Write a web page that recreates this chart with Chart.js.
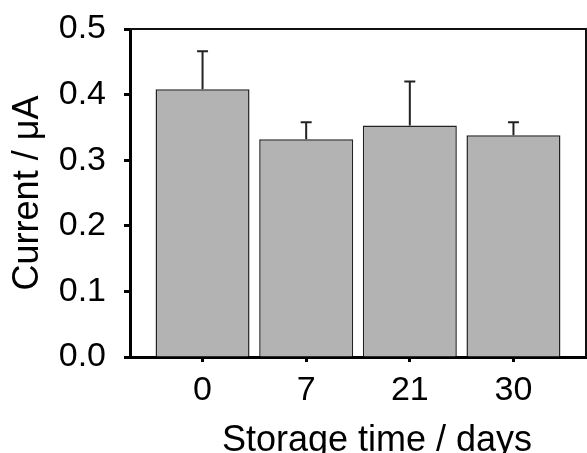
<!DOCTYPE html>
<html>
<head>
<meta charset="utf-8">
<script src="https://cdn.jsdelivr.net/npm/chart.js@4"></script>
<style>
html, body { margin: 0; padding: 0; background: #fff; }
</style>
</head>
<body>
<canvas id="myChart" width="587" height="453"></canvas>
<script>
// values
const days = ['0', '7', '21', '30'];
const current = [0.408, 0.332, 0.353, 0.338];
const currentErr = [0.058, 0.026, 0.067, 0.020];
const yTicks = [0, 0.1, 0.2, 0.3, 0.4, 0.5];

const FONT = 'Liberation Sans, Arial, sans-serif';

// upward error bars with a small cap
const errorBars = {
    id: 'errorBars',
    afterDatasetsDraw(chart) {
        const ctx = chart.ctx;
        const y = chart.scales.y;
        const meta = chart.getDatasetMeta(0);
        ctx.save();
        ctx.strokeStyle = '#222';
        ctx.lineWidth = 2;
        meta.data.forEach((bar, i) => {
            const top = y.getPixelForValue(current[i] + currentErr[i]);
            ctx.beginPath();
            ctx.moveTo(bar.x, bar.y);
            ctx.lineTo(bar.x, top);
            ctx.moveTo(bar.x - 5.5, top);
            ctx.lineTo(bar.x + 5.5, top);
            ctx.stroke();
        });
        ctx.restore();
    }
};

// thin top/right frame + x title (it runs off the bottom in the original)
const frame = {
    id: 'frame',
    afterDraw(chart) {
        const ctx = chart.ctx;
        const a = chart.chartArea;
        ctx.save();
        ctx.strokeStyle = '#111';
        ctx.lineWidth = 2;
        ctx.beginPath();
        ctx.moveTo(a.left, a.top);
        ctx.lineTo(a.right, a.top);
        ctx.lineTo(a.right, a.bottom);
        ctx.stroke();
        ctx.fillStyle = '#000';
        ctx.font = '36px ' + FONT;
        ctx.textAlign = 'center';
        ctx.textBaseline = 'alphabetic';
        ctx.fillText('Storage time / days', (a.left + a.right) / 2 + 19, 451);
        ctx.restore();
    }
};

const renderChart = () => {
    const ctx = document.getElementById('myChart').getContext('2d');
    new Chart(ctx, {
        type: 'bar',
        data: {
            datasets: [{
                data: current.map((v, i) => ({ x: i, y: v })),
                backgroundColor: '#b3b3b3',
                borderColor: '#222',
                borderWidth: 1.5,
                categoryPercentage: 1,
                barPercentage: 0.907
            }]
        },
        options: {
            responsive: false,
            animation: false,
            layout: { padding: { top: 29, right: 1, bottom: 0, left: 0 } },
            plugins: {
                legend: { display: false },
                tooltip: { enabled: false }
            },
            scales: {
                x: {
                    type: 'linear',
                    min: -0.7,
                    max: 3.7,
                    offset: false,
                    afterBuildTicks: (scale) => {
                        scale.ticks = days.map((d, i) => ({ value: i }));
                    },
                    afterFit: (scale) => {
                        scale.height = 96;
                        scale.paddingLeft = 0;
                        scale.paddingRight = 0;
                    },
                    ticks: {
                        callback: (v) => days[v],
                        color: '#000',
                        font: { family: FONT, size: 34 },
                        padding: 8,
                        maxRotation: 0
                    },
                    grid: {
                        offset: false,
                        drawOnChartArea: false,
                        drawTicks: true,
                        tickLength: 5,
                        tickWidth: 3,
                        tickColor: '#000'
                    },
                    border: { display: true, width: 3, color: '#000' }
                },
                y: {
                    min: 0,
                    max: 0.5,
                    afterBuildTicks: (scale) => {
                        scale.ticks = yTicks.map(v => ({ value: v }));
                    },
                    afterFit: (scale) => {
                        scale.width = 130;
                        scale.paddingTop = 0;
                        scale.paddingBottom = 0;
                    },
                    ticks: {
                        callback: (v) => v.toFixed(1),
                        color: '#000',
                        font: { family: FONT, size: 34 },
                        padding: 18
                    },
                    grid: {
                        drawOnChartArea: false,
                        drawTicks: true,
                        tickLength: 6,
                        tickWidth: 3,
                        tickColor: '#000'
                    },
                    border: { display: true, width: 3, color: '#000' },
                    title: {
                        display: true,
                        text: 'Current / μA',
                        color: '#000',
                        font: { family: FONT, size: 36 },
                        padding: { top: 6, bottom: 11 }
                    }
                }
            }
        },
        plugins: [errorBars, frame]
    });
};

renderChart();
</script>
</body>
</html>
